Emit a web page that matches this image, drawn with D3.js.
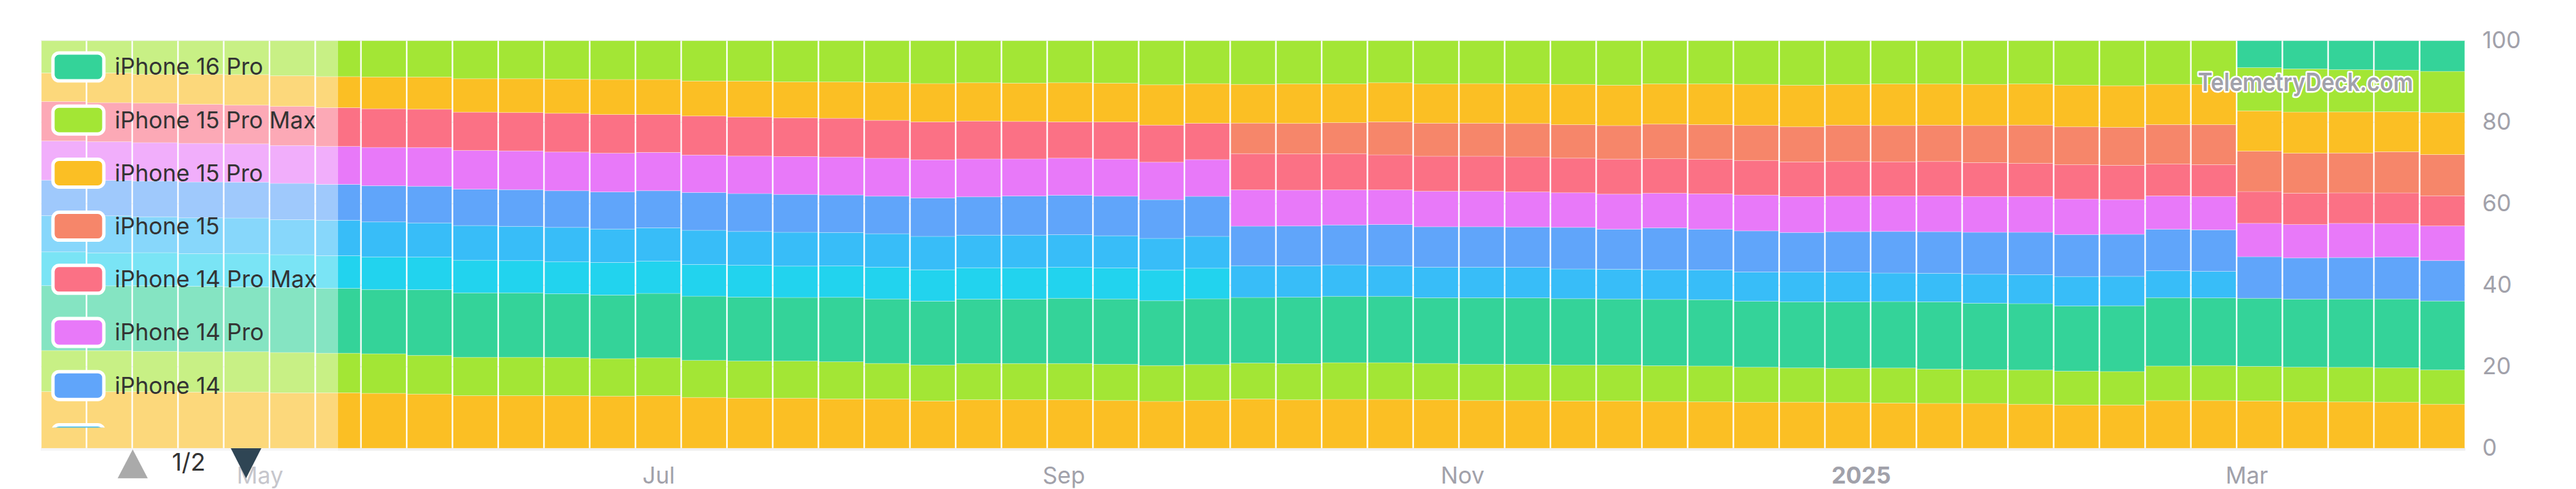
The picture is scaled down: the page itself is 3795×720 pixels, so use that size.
<!DOCTYPE html>
<html><head><meta charset="utf-8">
<script src="https://cdn.jsdelivr.net/npm/d3@7"></script>
<style>
html,body{margin:0;padding:0;background:#fff;}
svg{display:block;font-family:Inter,"Noto Sans",sans-serif;}
</style></head><body>
<svg id="chart" width="3795" height="720"></svg>
<script>
// ---- DATA ----
const weeks = ["2024-04-01","2024-04-08","2024-04-15","2024-04-22","2024-04-29","2024-05-06","2024-05-13","2024-05-20","2024-05-27",
"2024-06-03","2024-06-10","2024-06-17","2024-06-24","2024-07-01","2024-07-08","2024-07-15","2024-07-22","2024-07-29",
"2024-08-05","2024-08-12","2024-08-19","2024-08-26","2024-09-02","2024-09-09","2024-09-16","2024-09-23","2024-09-30",
"2024-10-07","2024-10-14","2024-10-21","2024-10-28","2024-11-04","2024-11-11","2024-11-18","2024-11-25","2024-12-02",
"2024-12-09","2024-12-16","2024-12-23","2024-12-30","2025-01-06","2025-01-13","2025-01-20","2025-01-27","2025-02-03",
"2025-02-10","2025-02-17","2025-02-24","2025-03-03","2025-03-10","2025-03-17","2025-03-24","2025-03-31"];

const seriesNames = ["iPhone 16 Pro","iPhone 15 Pro Max","iPhone 15 Pro","iPhone 15","iPhone 14 Pro Max","iPhone 14 Pro","iPhone 14","iPhone 13 Pro Max","iPhone 13 Pro","iPhone 13","iPhone 12","iPhone 11"];
const seriesColors = ["#34d399","#a3e635","#fbbf24","#f6866a","#fb7185","#e879f9","#60a5fa","#38bdf8","#22d3ee","#34d399","#a3e635","#fbbf24"];

const _ = null;
const iphone16Pro = [_,_,_,_,_,_,_,_,_,_,_,_,_,_,_,_,_,_,_,_,_,_,_,_,_,_,_,_,_,_,_,_,_,_,_,_,_,_,_,_,_,_,_,_,_,_,_,_,6.6,6.9,7.1,7.2,7.5];
const iphone15ProMax = [7.9,7.9,8.2,8.2,8.3,8.6,8.8,8.9,8.9,9.3,9.3,9.4,9.5,9.5,9.9,9.9,10.1,10.1,10.2,10.5,10.3,10.4,10.3,10.4,10.8,10.5,10.7,10.6,10.6,10.3,10.6,10.5,10.6,10.7,10.9,10.6,10.6,10.7,10.9,10.7,10.6,10.6,10.7,10.6,10.9,11.0,10.7,10.7,10.6,10.6,10.4,10.2,10.1];
const iphone15Pro = [7.0,7.3,7.1,7.4,7.5,7.5,7.6,7.8,7.9,8.2,8.3,8.4,8.6,8.6,8.6,8.8,8.8,8.9,9.3,9.4,9.4,9.4,9.6,9.5,9.9,9.7,9.5,9.7,9.5,9.6,9.6,9.7,9.7,9.9,9.9,9.9,10.0,10.1,10.2,10.0,10.2,10.1,10.1,10.1,10.2,10.2,9.9,9.9,9.9,10.1,10.1,9.8,10.3];
const iphone15 = [_,_,_,_,_,_,_,_,_,_,_,_,_,_,_,_,_,_,_,_,_,_,_,_,_,_,7.5,7.5,7.6,8.1,8.1,8.1,8.2,8.2,8.2,8.5,8.5,8.6,8.6,8.9,8.9,8.9,9.1,9.4,9.3,9.3,9.7,9.8,9.9,9.8,9.8,10.1,10.1];
const iphone14ProMax = [9.7,9.6,9.7,9.6,9.5,9.6,9.5,9.5,9.4,9.4,9.4,9.5,9.5,9.3,9.6,9.6,9.5,9.5,9.3,9.3,9.3,9.2,8.9,9.1,9.1,8.9,8.9,8.9,8.9,8.6,8.6,8.6,8.6,8.5,8.6,8.5,8.5,8.5,8.5,8.5,8.4,8.4,8.3,8.1,8.4,8.4,7.8,7.8,7.8,7.7,7.5,7.5,7.4];
const iphone14Pro = [9.6,9.5,9.4,9.5,9.4,9.3,9.3,9.4,9.5,9.5,9.5,9.5,9.5,9.4,9.2,9.2,9.3,9.3,9.3,9.4,9.3,9.1,9.1,9.1,9.2,9.0,8.9,8.8,8.6,8.5,8.7,8.7,8.6,8.5,8.6,8.5,8.7,8.8,8.8,8.7,8.7,8.8,8.8,8.8,8.7,8.5,8.2,8.2,8.2,8.2,8.4,8.2,8.5];
const iphone14 = [8.7,8.7,8.8,8.8,8.8,8.9,8.8,8.9,9.0,8.9,9.0,9.0,9.1,9.1,9.3,9.3,9.3,9.2,9.2,9.4,9.4,9.6,9.7,9.7,9.5,9.8,9.7,9.8,9.8,10.1,9.9,9.9,9.9,10.2,9.8,10.3,10.0,10.1,9.7,9.9,10.2,10.2,10.3,10.4,10.3,10.3,10.2,10.2,10.2,10.1,10.2,10.3,9.9];
const iphone13ProMax = [8.9,9.1,8.8,8.8,8.7,8.6,8.7,8.6,8.4,8.5,8.4,8.4,8.2,8.2,8.4,8.3,8.3,8.2,8.2,8.2,8.0,8.0,8.0,7.9,7.8,7.8,7.8,7.7,7.7,7.5,7.5,7.5,7.5,7.3,7.3,7.3,7.3,7.2,7.3,7.3,7.0,7.0,7.1,7.1,7.2,7.2,6.6,6.5,_,_,_,_,_];
const iphone13Pro = [8.3,8.1,8.1,8.0,8.2,8.1,8.0,8.0,8.0,8.0,7.9,7.9,8.0,7.9,7.8,7.8,7.7,7.7,7.8,7.7,7.7,7.7,7.6,7.6,7.5,7.5,_,_,_,_,_,_,_,_,_,_,_,_,_,_,_,_,_,_,_,_,_,_,_,_,_,_,_];
const iphone13 = [15.9,15.9,16.1,16.1,15.9,15.9,15.9,15.8,16.1,15.8,15.8,15.6,15.6,15.8,15.8,15.7,15.6,15.8,15.8,15.7,15.8,15.8,16.0,16.0,15.9,16.1,16.1,16.3,16.3,16.3,16.1,16.3,16.3,16.3,16.2,16.3,16.3,16.2,16.2,16.3,16.3,16.5,16.3,16.3,16.0,16.1,16.8,16.6,16.7,16.7,16.8,16.9,16.9];
const iphone12 = [10.1,10.1,9.9,9.9,9.9,9.9,9.7,9.7,9.5,9.4,9.4,9.4,9.2,9.3,9.1,9.1,9.1,9.1,8.7,8.8,8.9,8.9,8.9,8.9,8.8,8.8,8.8,8.9,9.0,9.0,8.9,8.9,8.9,8.8,8.8,8.8,8.8,8.6,8.4,8.4,8.6,8.4,8.3,8.4,8.3,8.2,8.5,8.6,8.5,8.5,8.5,8.4,8.4];
const iphone11 = [13.9,13.9,13.9,13.8,13.8,13.6,13.6,13.5,13.3,12.9,12.9,12.9,12.8,12.9,12.5,12.3,12.3,12.1,12.1,11.6,11.9,11.9,11.9,11.7,11.5,11.7,12.1,11.9,12.0,12.0,11.9,11.7,11.7,11.6,11.6,11.5,11.4,11.3,11.3,11.2,11.1,11.0,11.0,10.8,10.6,10.6,11.7,11.7,11.6,11.4,11.4,11.3,10.8];

const yTicks = [0, 20, 40, 60, 80, 100];
const xTickLabels = ["May","Jul","Sep","Nov","2025","Mar"];
const pageLabel = "1/2";
const legendPageSize = 8;
const watermark = "TelemetryDeck.com";

// ---- BUILD ----
const seriesValues = [iphone16Pro, iphone15ProMax, iphone15Pro, iphone15, iphone14ProMax, iphone14Pro, iphone14, iphone13ProMax, iphone13Pro, iphone13, iphone12, iphone11];
const dates = weeks.map(d => new Date(d + "T00:00:00Z"));
const rows = dates.map((d, i) => {
  const r = {date: d};
  seriesNames.forEach((n, s) => r[n] = seriesValues[s][i] == null ? 0 : seriesValues[s][i]);
  return r;
});
// stacking bottom -> top is the reverse of the legend order
const stackKeys = seriesNames.slice().reverse();
const stacked = d3.stack().keys(stackKeys).offset(d3.stackOffsetExpand)(rows);
const colorOf = n => seriesColors[seriesNames.indexOf(n)];

const L = 60, R = 3632, T = 60, B = 660;
const svg = d3.select("#chart");

const x = d3.scaleUtc()
  .domain([d3.utcHour.offset(dates[0], -84), d3.utcHour.offset(dates[dates.length-1], 84)])
  .range([L, R]);
const y = d3.scaleLinear().domain([0, 100]).range([B, T]);
const yf = d3.scaleLinear().domain([0, 1]).range([B, T]);
const bw = x(d3.utcDay.offset(dates[0], 7)) - x(dates[0]);

// gridlines
svg.append("g").selectAll("line").data(yTicks).join("line")
  .attr("x1", L).attr("x2", R).attr("y1", d => y(d)).attr("y2", d => y(d))
  .attr("stroke", "#ececef").attr("stroke-width", 1.5);
svg.append("rect").attr("x", L).attr("y", B).attr("width", R - L).attr("height", 3.5).attr("fill", "#eeeef0");

// bars
const layers = svg.append("g").selectAll("g").data(stacked).join("g")
  .attr("fill", d => colorOf(d.key));
layers.selectAll("rect")
  .data(d => d.filter(p => p[1] - p[0] > 0))
  .join("rect")
  .attr("x", p => x(p.data.date) - bw / 2 + 1)
  .attr("width", bw - 2)
  .attr("y", p => yf(p[1]))
  .attr("height", p => yf(p[0]) - yf(p[1]))
  .attr("stroke", "rgba(255,255,255,0.35)")
  .attr("stroke-width", 0.8);

// y axis (right)
const yAxis = svg.append("g").attr("transform", `translate(${R},0)`)
  .call(d3.axisRight(y).tickValues(yTicks).tickSize(0).tickPadding(25).tickFormat(d3.format("d")));
yAxis.select(".domain").remove();
yAxis.selectAll("text").attr("font-size", 34).attr("fill", "#a1a1aa").attr("font-family", "Inter, 'Noto Sans', sans-serif");

// x axis
const xTicks = x.ticks(d3.utcMonth.every(2));
const xAxis = svg.append("g").attr("transform", `translate(0,${B})`)
  .call(d3.axisBottom(x).tickValues(xTicks).tickSize(0).tickPadding(28)
    .tickFormat((d, i) => xTickLabels[i]));
xAxis.select(".domain").remove();
xAxis.selectAll("text").attr("font-size", 34).attr("fill", "#a1a1aa")
  .attr("font-family", "Inter, 'Noto Sans', sans-serif")
  .attr("font-weight", (d, i) => xTickLabels[i] === "2025" ? 700 : 400);

// watermark
svg.append("text").attr("x", 3555).attr("y", 134).attr("text-anchor", "end")
  .attr("font-size", 37).attr("font-weight", 600).attr("fill", "#a1a1aa")
  .attr("stroke", "#fff").attr("stroke-width", 5).attr("paint-order", "stroke")
  .attr("stroke-linejoin", "round")
  .attr("textLength", 317).attr("lengthAdjust", "spacingAndGlyphs")
  .text(watermark);

// legend background overlay
svg.append("rect").attr("x", L).attr("y", T).attr("width", 438).attr("height", 720 - T)
  .attr("fill", "#fff").attr("fill-opacity", 0.4);

svg.append("defs").append("clipPath").attr("id", "legclip")
  .append("rect").attr("x", L).attr("y", T).attr("width", 440).attr("height", 629.5 - T);

// legend page 1 only
const leg = svg.append("g").attr("clip-path", "url(#legclip)");
const items = leg.selectAll("g").data(seriesNames.slice(0, legendPageSize)).join("g")
  .attr("transform", (d, i) => `translate(0,${98.5 + 78.2 * i})`);
items.append("rect").attr("x", 78).attr("y", -20.5).attr("width", 75).attr("height", 41)
  .attr("rx", 9).attr("fill", (d, i) => seriesColors[i]).attr("stroke", "#fff").attr("stroke-width", 5);
items.append("text").attr("x", 169).attr("dy", "0.35em").attr("font-size", 34).attr("fill", "#333")
  .text(d => d);

// pager
svg.append("path").attr("d", "M173.3,704.3L217.7,704.3L195.5,661.7Z").attr("fill", "#aaa");
svg.append("text").attr("x", 278).attr("y", 693).attr("text-anchor", "middle")
  .attr("font-size", 36).attr("fill", "#333").text(pageLabel);
svg.append("path").attr("d", "M340,660L385,660L362.5,704.3Z").attr("fill", "#2f4554");
</script>
</body></html>
